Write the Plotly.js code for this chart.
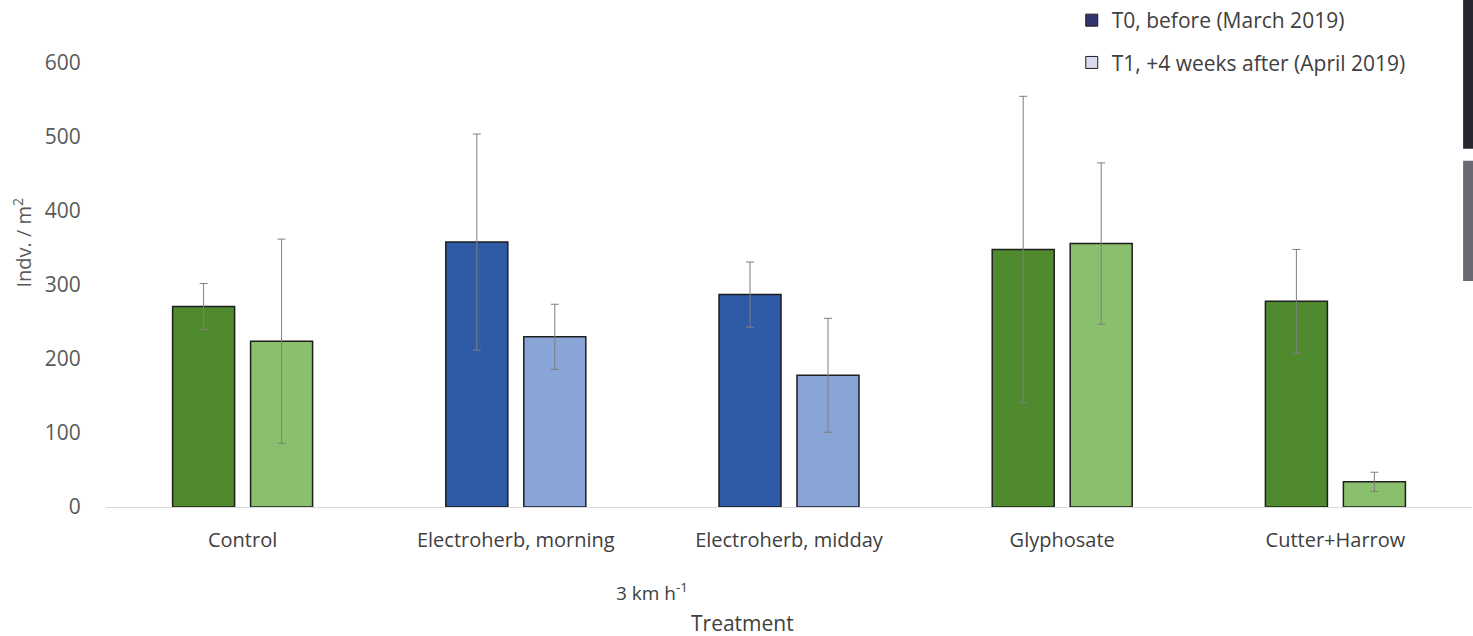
<!DOCTYPE html>
<html>
<head>
<meta charset="utf-8">
<script src="https://cdn.plot.ly/plotly-3.0.1.min.js"></script>
<style>html,body{margin:0;padding:0;background:#fff;}#chart{width:1473px;height:636px;}</style>
</head>
<body>
<div id="chart"></div>
<script>
const categories = ["Control", "Electroherb, morning", "Electroherb, midday", "Glyphosate", "Cutter+Harrow"];
const t0Values = [271, 358, 287, 348, 278];
const t0Errors = [31, 146, 44, 207, 70];
const t1Values = [224, 230, 178, 356, 34];
const t1Errors = [138, 44, 77, 109, 13];
const t0Colors = ["#4f8a2f", "#2f5ba6", "#2f5ba6", "#4f8a2f", "#4f8a2f"];
const t1Colors = ["#8abf6d", "#89a5d8", "#89a5d8", "#8abf6d", "#8abf6d"];
const seriesNames = ["T0, before (March 2019)", "T1, +4 weeks after (April 2019)"];
const legendColors = ["#33366e", "#d9dbee"];
const yTicks = [0, 100, 200, 300, 400, 500, 600];

const fontFam = "'Open Sans', sans-serif";
const errStyle = {type: "data", visible: true, color: "#7f7f7f", thickness: 1, width: 4};

const traces = [
  {type: "bar", x: categories, y: t0Values, name: seriesNames[0], showlegend: false,
   marker: {color: t0Colors, line: {color: "#1e1e1e", width: 1.5}},
   error_y: Object.assign({array: t0Errors}, errStyle), hoverinfo: "x+y"},
  {type: "bar", x: categories, y: t1Values, name: seriesNames[1], showlegend: false,
   marker: {color: t1Colors, line: {color: "#1e1e1e", width: 1.5}},
   error_y: Object.assign({array: t1Errors}, errStyle), hoverinfo: "x+y"},
  {type: "bar", x: [categories[0]], y: [null], name: seriesNames[0], showlegend: true,
   xaxis: "x2", yaxis: "y2", legendgroup: "a",
   marker: {color: legendColors[0], line: {color: "#1e1e1e", width: 1}}, hoverinfo: "skip"},
  {type: "bar", x: [categories[0]], y: [null], name: seriesNames[1], showlegend: true,
   xaxis: "x2", yaxis: "y2", legendgroup: "b",
   marker: {color: legendColors[1], line: {color: "#1e1e1e", width: 1}}, hoverinfo: "skip"}
];

const layout = {
  width: 1473, height: 636,
  margin: {l: 106, r: 1, t: 25, b: 129},
  paper_bgcolor: "#ffffff", plot_bgcolor: "#ffffff",
  font: {family: fontFam, size: 20, color: "#595959"},
  barmode: "group", bargap: 0.429, bargroupgap: 0.205,
  xaxis: {type: "category", showgrid: false, zeroline: false, showline: true,
          linecolor: "#d9d9d9", linewidth: 1, ticks: "outside", ticklen: 15,
          tickcolor: "rgba(0,0,0,0)", tickfont: {size: 20, color: "#404040"}},
  yaxis: {range: [0, 650], tickvals: yTicks, showgrid: false,
          zeroline: false, showline: false, ticks: "outside", ticklen: 20,
          tickcolor: "rgba(0,0,0,0)", tickfont: {size: 21, color: "#595959"}},
  xaxis2: {overlaying: "x", visible: false, type: "category"},
  yaxis2: {overlaying: "y", visible: false, range: [0, 650]},
  legend: {x: 0.707, y: 1.053, xanchor: "left", yanchor: "top", orientation: "v",
           font: {size: 21, color: "#404040"}, tracegroupgap: 12, itemwidth: 30,
           bgcolor: "rgba(255,255,255,0)"},
  annotations: [
    {text: "Indv. / m<sup>2</sup>", xref: "paper", yref: "paper", x: -0.061, y: 0.549, xanchor: "center",
     yanchor: "middle", textangle: -90, showarrow: false, font: {size: 20, color: "#595959"}},
    {text: "3 km h<sup>-1</sup>", xref: "paper", yref: "paper", x: 0.400, y: -0.176, xanchor: "center",
     yanchor: "middle", showarrow: false, font: {size: 19, color: "#404040"}},
    {text: "Treatment", xref: "paper", yref: "paper", x: 0.466, y: -0.241, xanchor: "center",
     yanchor: "middle", showarrow: false, font: {size: 21, color: "#404040"}}
  ],
  shapes: [
    {type: "rect", xref: "paper", yref: "paper", x0: 0.9935, x1: 1.001, y0: 0.745, y1: 1.06,
     fillcolor: "#2a2630", line: {width: 0}, layer: "above"},
    {type: "rect", xref: "paper", yref: "paper", x0: 0.9935, x1: 1.001, y0: 0.47, y1: 0.72,
     fillcolor: "#6a6870", line: {width: 0}, layer: "above"}
  ]
};

Plotly.newPlot("chart", traces, layout, {displayModeBar: false, staticPlot: true});
</script>
</body>
</html>
